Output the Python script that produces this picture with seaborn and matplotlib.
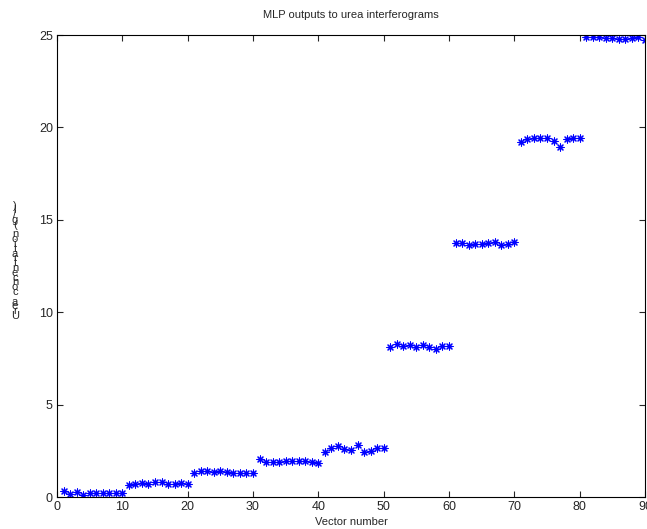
import numpy as np
import pandas as pd
import matplotlib
matplotlib.use("Agg")
from matplotlib import pyplot as plt
import seaborn as sns

# values, 10 vectors per concentration level
level_1 = [0.30, 0.15, 0.28, 0.13, 0.20, 0.20, 0.22, 0.20, 0.20, 0.20]
level_2 = [0.65, 0.72, 0.75, 0.73, 0.80, 0.80, 0.72, 0.72, 0.78, 0.72]
level_3 = [1.30, 1.42, 1.40, 1.35, 1.40, 1.35, 1.30, 1.32, 1.30, 1.32]
level_4 = [2.05, 1.92, 1.92, 1.92, 1.97, 1.97, 1.97, 1.95, 1.90, 1.85]
level_5 = [2.45, 2.65, 2.75, 2.60, 2.55, 2.80, 2.45, 2.50, 2.65, 2.65]
level_6 = [8.10, 8.28, 8.15, 8.20, 8.12, 8.22, 8.10, 8.00, 8.15, 8.15]
level_7 = [13.75, 13.72, 13.62, 13.68, 13.68, 13.75, 13.78, 13.62, 13.68, 13.78]
level_8 = [19.23, 19.35, 19.40, 19.40, 19.40, 19.28, 18.96, 19.35, 19.40, 19.40]
level_9 = [24.90, 24.88, 24.88, 24.85, 24.85, 24.80, 24.78, 24.82, 24.88, 24.72]

outputs = level_1 + level_2 + level_3 + level_4 + level_5 + level_6 + level_7 + level_8 + level_9
vector_number = np.arange(1, len(outputs) + 1)

x_ticks = [0, 10, 20, 30, 40, 50, 60, 70, 80, 90]
y_ticks = [0, 5, 10, 15, 20, 25]

title = "MLP outputs to urea interferograms"
xlabel = "Vector number"
ylabel = "Urea concentration (g/l)"

df = pd.DataFrame({"vector": vector_number, "output": outputs})

sns.set_style("ticks")
plt.rcParams['font.family'] = ['Liberation Sans', 'DejaVu Sans']

fig = plt.figure(figsize=(6.47, 5.29), dpi=100)
ax = fig.add_axes([57 / 647, 32 / 529, 588 / 647, 462 / 529])

sns.scatterplot(data=df, x="vector", y="output", ax=ax, marker=(8, 2, 0),
                color=(0, 0, 1), s=26, linewidth=0.8)

ax.set_xlim(0, 90)
ax.set_ylim(0, 25)
ax.set_xticks(x_ticks)
ax.set_yticks(y_ticks)
ax.tick_params(direction="in", length=4, width=0.8, top=True, right=True,
               labelsize=9, pad=3)
for sp in ax.spines.values():
    sp.set_visible(True)
    sp.set_linewidth(0.8)
    sp.set_color("black")

ax.set_title(title, fontsize=8, pad=12)
ax.set_xlabel(xlabel, fontsize=8, labelpad=3)
ax.set_ylabel("")

# the y label in the reference is drawn as upright letters stacked bottom to top
y0 = (529 - 316) / 529
step = 4.8 / 529
for i, ch in enumerate(ylabel):
    fig.text(15 / 647, y0 + i * step, ch, fontsize=8, ha="center", va="center")

fig.savefig("out.png", dpi=100)
